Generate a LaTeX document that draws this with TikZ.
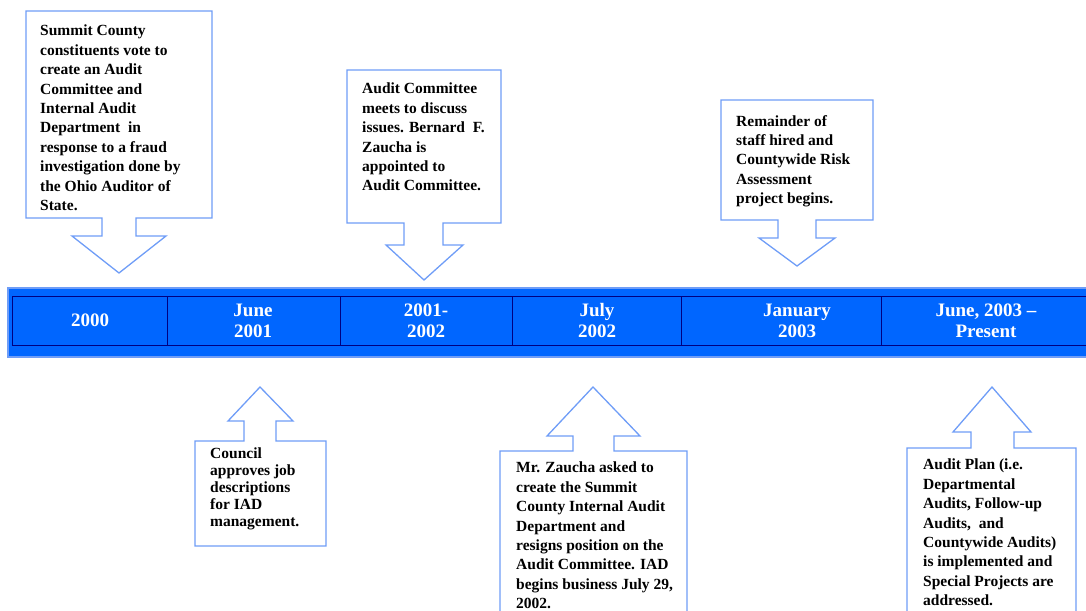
\documentclass[tikz,border=0pt]{standalone}
\usepackage{fontspec}
\setmainfont{Liberation Serif}
\usetikzlibrary{positioning}
\definecolor{bandblue}{HTML}{0066FF}
\definecolor{edgeblue}{HTML}{6F9DF7}
\definecolor{rulenavy}{HTML}{000080}

\begin{document}
\begin{tikzpicture}[x=1pt, y=-1pt,
    callout/.style={draw=edgeblue, line width=1.3pt, fill=white, line join=miter},
    evtext/.style={anchor=north west, inner sep=0pt, align=left,
      font=\fontsize{15.5}{19.4}\selectfont\bfseries},
    yeartext/.style={inner sep=0pt, align=center, text=white,
      font=\fontsize{19}{21}\selectfont\bfseries}]
    \clip (0,0) rectangle (1086,610);
    \useasboundingbox (0,0) rectangle (1086,610);

    % callouts above the band
    \draw[callout] (26,11) -- (212,11) -- (212,218) -- (136,218) -- (136,236) -- (166,236)
      -- (119,273) -- (72,236) -- (102,236) -- (102,218) -- (26,218) -- cycle;
    \draw[callout] (347,70) -- (501,70) -- (501,223) -- (443,223) -- (443,245) -- (463,245)
      -- (424,280) -- (386,245) -- (404,245) -- (404,223) -- (347,223) -- cycle;
    \draw[callout] (721,100) -- (873,100) -- (873,220) -- (816,220) -- (816,238) -- (835,238)
      -- (797,266) -- (759,238) -- (778,238) -- (778,220) -- (721,220) -- cycle;

    % callouts below the band
    \draw[callout] (195,441) -- (244,441) -- (244,421) -- (228,421) -- (260,387) -- (293,421)
      -- (276,421) -- (276,441) -- (326,441) -- (326,546) -- (195,546) -- cycle;
    \draw[callout] (500,451) -- (573,451) -- (573,436) -- (547,436) -- (593,387) -- (640,436)
      -- (614,436) -- (614,451) -- (687,451) -- (687,620) -- (500,620) -- cycle;
    \draw[callout] (907,448) -- (971,448) -- (971,432) -- (953,432) -- (992,387) -- (1031,432)
      -- (1014,432) -- (1014,448) -- (1076,448) -- (1076,620) -- (907,620) -- cycle;

    \node[evtext] (vote) at (40,25) {Summit County\\constituents vote to\\create an Audit\\Committee and\\Internal Audit\\Department\ \ in\\response to a fraud\\investigation done by\\the Ohio Auditor of\\State.};
    \node[evtext] (meets) at (362,83) {Audit Committee\\meets to discuss\\issues. Bernard\ \ F.\\Zaucha is\\appointed to\\Audit Committee.};
    \node[evtext] (hired) at (736,115) {Remainder of\\staff hired and\\Countywide Risk\\Assessment\\project begins.};
    \node[evtext, font=\fontsize{15.5}{17}\selectfont\bfseries] (council) at (210,448) {Council\\approves job\\descriptions\\for IAD\\management.};
    \node[evtext] (zaucha) at (516,462) {Mr. Zaucha asked to\\create the Summit\\County Internal Audit\\Department and\\resigns position on the\\Audit Committee. IAD\\begins business July 29,\\2002.};
    \node[evtext] (plan) at (923,459) {Audit Plan (i.e.\\Departmental\\Audits, Follow-up\\Audits,\ \ and\\Countywide Audits)\\is implemented and\\Special Projects are\\addressed.};

    % the time band
    \draw[fill=bandblue, draw=edgeblue, line width=1.5pt] (8,288) rectangle (1100,357);
    \draw[rulenavy, line width=0.8pt] (12,296) rectangle (1100,345);
    \foreach \x in {167,340,512,681,881}
      \draw[rulenavy, line width=0.8pt] (\x,296) -- (\x,345);

    \node[yeartext] (y2000) at (90,320.5) {2000};
    \node[yeartext] (jun01) at (253,320.5) {June\\2001};
    \node[yeartext] (y0102) at (426,320.5) {2001-\\2002};
    \node[yeartext] (jul02) at (597,320.5) {July\\2002};
    \node[yeartext] (jan03) at (797,320.5) {January\\2003};
    \node[yeartext] (jun03) at (986,320.5) {June, 2003 –\\Present};
\end{tikzpicture}
\end{document}
